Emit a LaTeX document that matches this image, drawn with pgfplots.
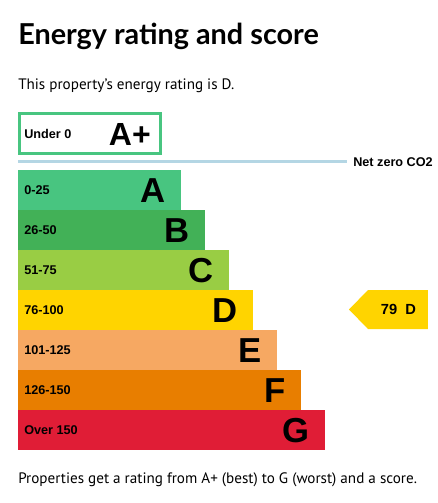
\documentclass[border=0pt]{standalone}
\usepackage{fontspec}
\setmainfont{Liberation Sans}
\newfontfamily\gds{Lato}
\newfontfamily\body{PT Sans}
\usepackage{pgfplots}
\pgfplotsset{compat=1.18}
\definecolor{cA}{RGB}{72,197,128}
\definecolor{cB}{RGB}{66,177,87}
\definecolor{cC}{RGB}{153,205,68}
\definecolor{cD}{RGB}{255,212,0}
\definecolor{cE}{RGB}{246,168,98}
\definecolor{cF}{RGB}{232,126,0}
\definecolor{cG}{RGB}{224,29,54}
\definecolor{cNZ}{RGB}{180,214,228}
\tikzset{rng/.style={anchor=base west, inner sep=0, font=\bfseries\fontsize{9.5}{11}\selectfont},
         ltr/.style={anchor=base east, inner sep=0, font=\bfseries\fontsize{26}{30}\selectfont}}
\begin{document}
\begin{tikzpicture}
\begin{axis}[
  scale only axis, width=328.5pt, height=377.25pt,
  xmin=-18, xmax=420, ymin=0, ymax=503, y dir=reverse,
  hide axis, clip=false,
  bar width=30.2pt, bar shift=0pt,
]
% bars (length in px from left edge)
\addplot[xbar, fill=cA, draw=none] coordinates {(163,190)};
\addplot[xbar, fill=cB, draw=none] coordinates {(187,230)};
\addplot[xbar, fill=cC, draw=none] coordinates {(211,270)};
\addplot[xbar, fill=cD, draw=none] coordinates {(235,310)};
\addplot[xbar, fill=cE, draw=none] coordinates {(259,350)};
\addplot[xbar, fill=cF, draw=none] coordinates {(283,390)};
\addplot[xbar, fill=cG, draw=none] coordinates {(307,430)};
% A+ box
\addplot[draw=cA, line width=2.25pt, mark=none] coordinates {(1.5,113.5) (142.5,113.5) (142.5,153.5) (1.5,153.5)} -- cycle;
% net zero line
\addplot[draw=cNZ, line width=2.4pt, mark=none] coordinates {(0,161.5) (329,161.5)};
% current rating arrow
\addplot[fill=cD, draw=none, mark=none] coordinates {(331,309.5) (350,290) (410,290) (410,329) (350,329)} -- cycle;

% texts
\node[anchor=base west, inner sep=0] at (axis cs:0,44.5) {\gds\bfseries\fontsize{21.6}{26}\selectfont Energy rating and score};
\node[anchor=base west, inner sep=0] at (axis cs:0,89) {\body\fontsize{11.35}{14}\selectfont This property’s energy rating is D.};
\node[anchor=base west, inner sep=0] at (axis cs:0,483) {\body\fontsize{11.35}{14}\selectfont Properties get a rating from A+ (best) to G (worst) and a score.};

\node[rng] at (axis cs:6,138) {Under 0};
\node[anchor=base east, inner sep=0, font=\bfseries\fontsize{24}{28}\selectfont] at (axis cs:133,145) {A+};
\node[rng] at (axis cs:335,166) {Net zero CO2};

\node[rng] at (axis cs:6,194.5) {0-25};
\node[rng] at (axis cs:6,234.5) {26-50};
\node[rng] at (axis cs:6,274.5) {51-75};
\node[rng] at (axis cs:6,314.5) {76-100};
\node[rng] at (axis cs:6,354.5) {101-125};
\node[rng] at (axis cs:6,394.5) {126-150};
\node[rng] at (axis cs:6,434.5) {Over 150};

\node[ltr] at (axis cs:148,202.5) {A};
\node[ltr] at (axis cs:172,242.5) {B};
\node[ltr] at (axis cs:196,282.5) {C};
\node[ltr] at (axis cs:220,322.5) {D};
\node[ltr] at (axis cs:244,362.5) {E};
\node[ltr] at (axis cs:268,402.5) {F};
\node[ltr] at (axis cs:292,442.5) {G};

\node[anchor=center, inner sep=0, font=\bfseries\fontsize{11}{13}\selectfont] at (axis cs:380.5,309.5) {79~~D};
\end{axis}
\pgfresetboundingbox
\path[use as bounding box] (current axis.south west) rectangle (current axis.north east);
\end{tikzpicture}
\end{document}
